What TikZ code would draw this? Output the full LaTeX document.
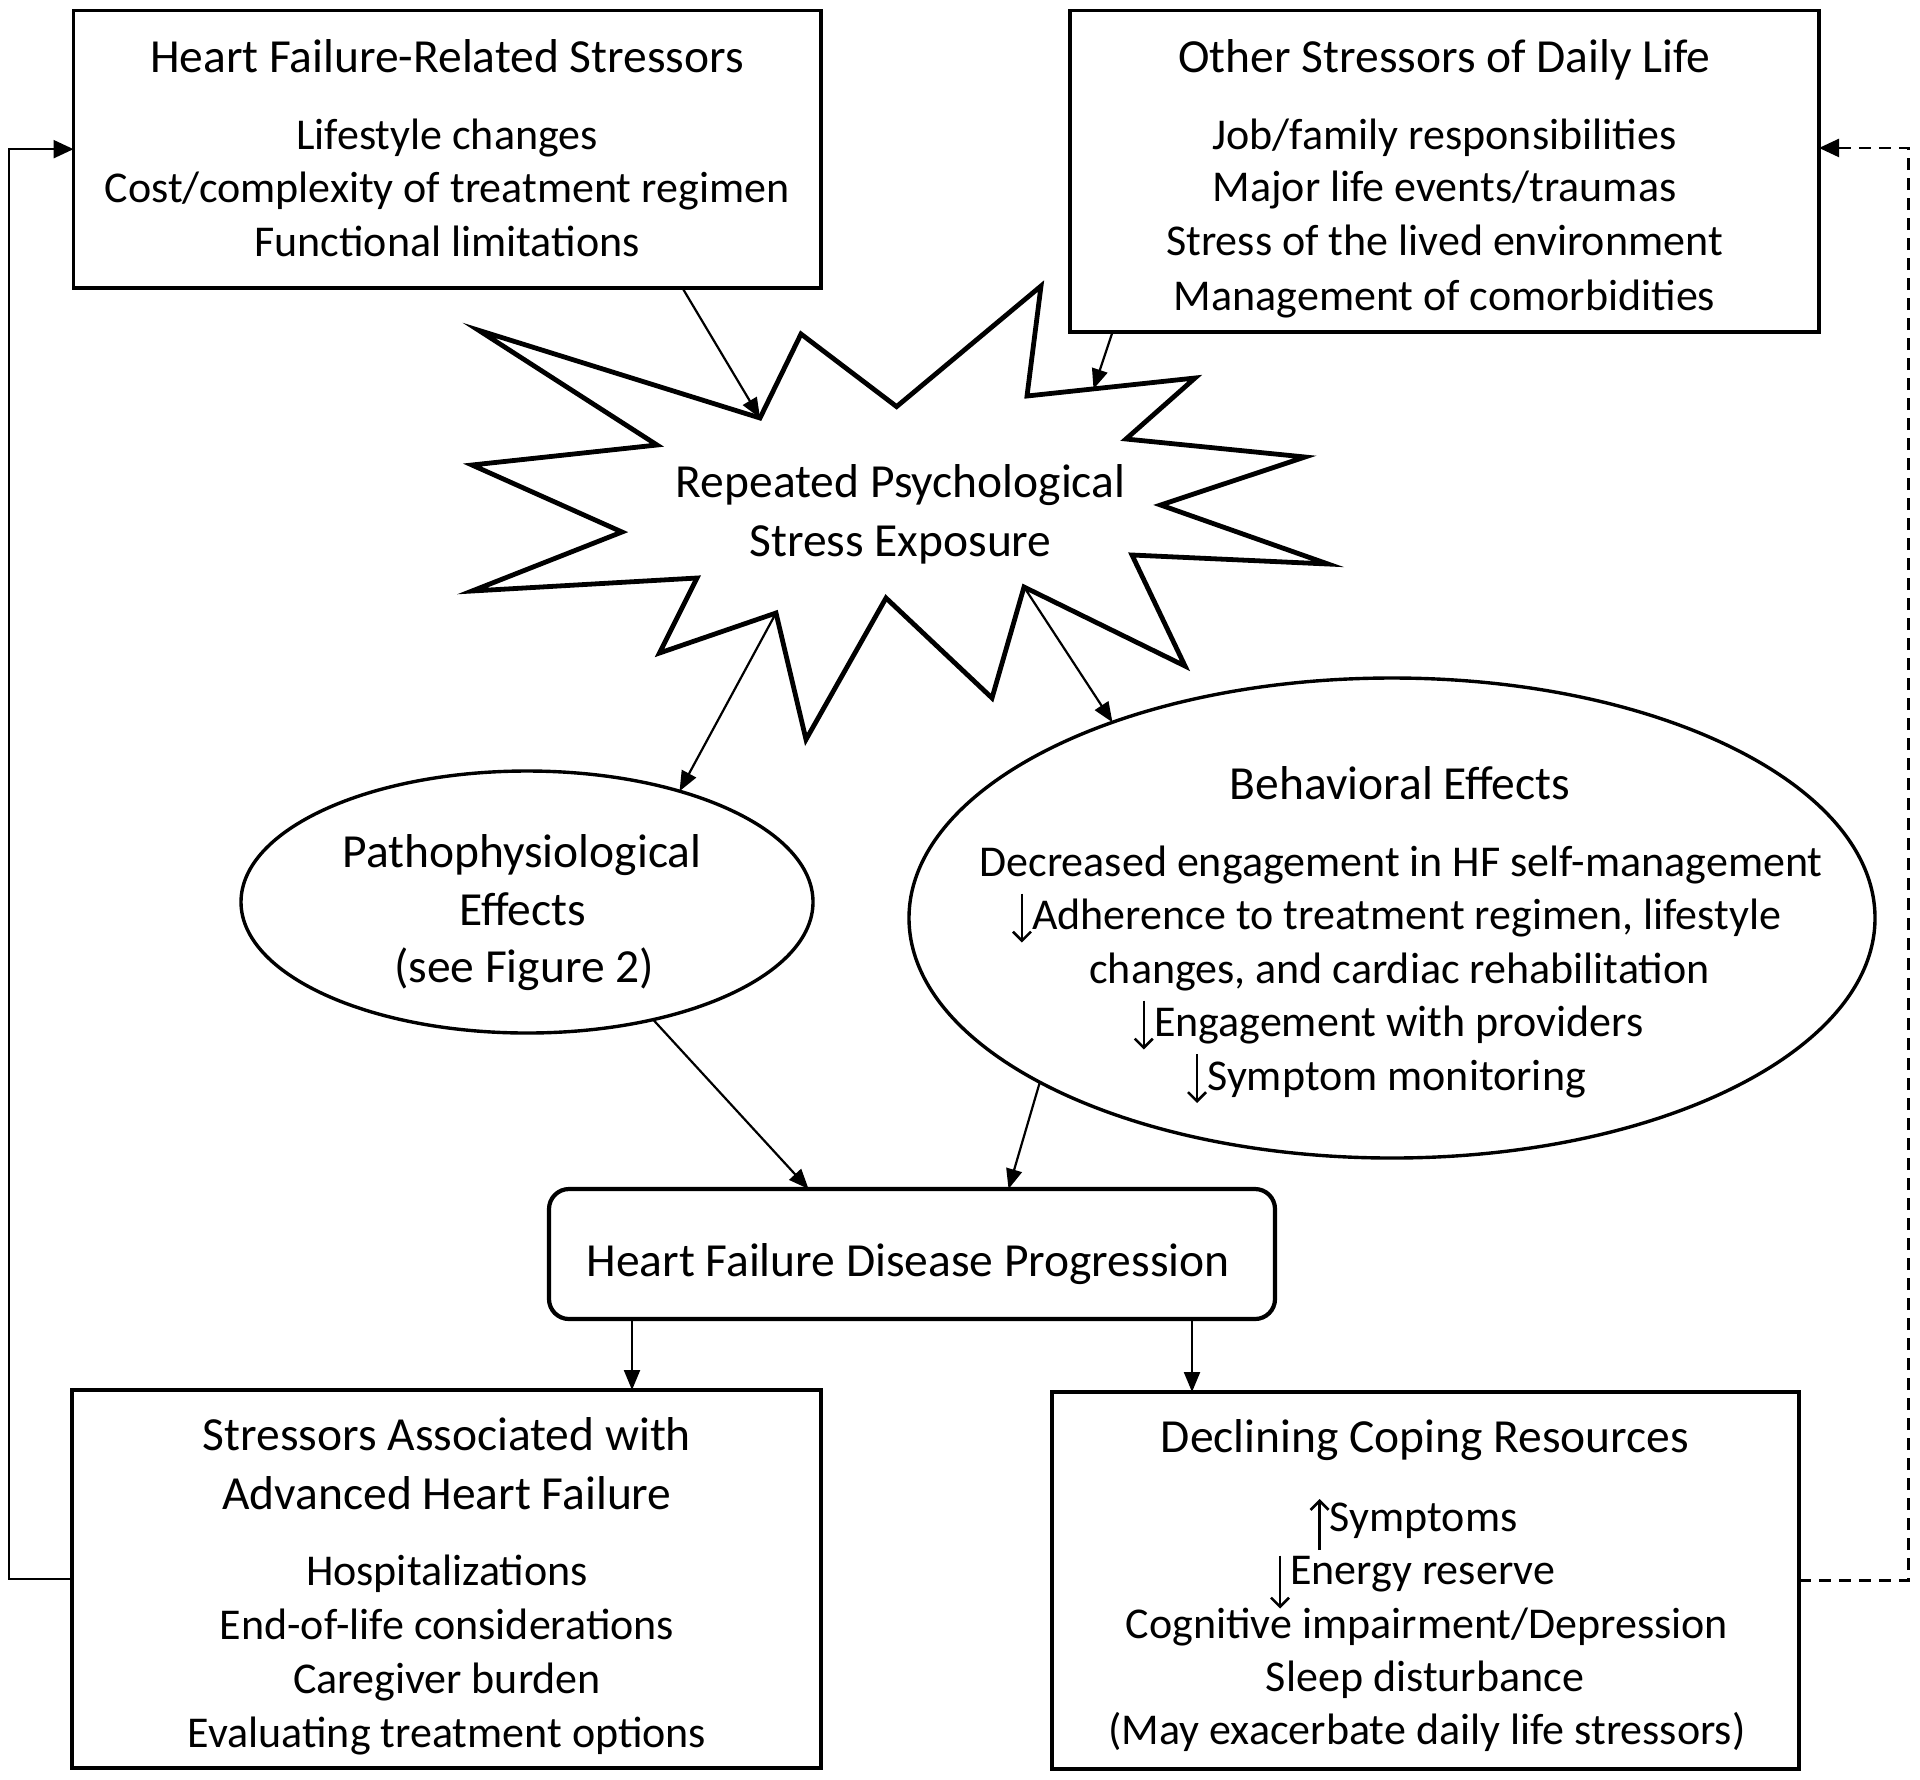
\documentclass[tikz,border=0pt]{standalone}
\usepackage{fontspec}
\setmainfont{Carlito}
\usetikzlibrary{arrows.meta,calc,shapes.geometric}
% inline vertical arrow glyph: #1 = start height, #2 = end height (relative to baseline)
\newcommand{\vtarr}[2]{\tikz[baseline=0pt,x=1pt,y=1pt]{\path (-5.5pt,0pt) (5pt,0pt);\draw[line width=1.3pt,-{Straight Barb[length=4.5pt,width=9pt,line width=1.3pt]}] (0pt,#1) -- (0pt,#2);}}
\begin{document}
\begin{tikzpicture}[x=0.5pt,y=-0.5pt,line join=miter,
  box/.style={draw, line width=1.8pt, inner sep=0pt, outer sep=0pt},
  ell/.style={draw, ellipse, line width=1.7pt, inner sep=0pt, outer sep=0pt},
  ttl/.style={anchor=base, inner sep=0pt, font=\fontsize{23.75}{29.5}\selectfont},
  bod/.style={anchor=base, inner sep=0pt, font=\fontsize{22}{27}\selectfont},
  arr/.style={line width=1.1pt, -{Triangle[length=10pt,width=8pt]}},
  fb/.style={line width=1.2pt, -{Triangle[length=10pt,width=9pt]}},
  starline/.style={line width=2.4pt}]
\fill[white] (0,0) rectangle (1920,1779);
\useasboundingbox (0,0) rectangle (1920,1779);

% ---------- top boxes ----------
\node[box, minimum width=373.75pt, minimum height=138.85pt] (b1) at (447.25,149.15) {};
\node[ttl] (b1t) at (447,72.7) {Heart Failure-Related Stressors};
\node[bod] (b1a) at (447,149) {Lifestyle changes};
\node[bod] (b1b) at (447,202) {Cost/complexity of treatment regimen};
\node[bod] (b1c) at (447,256) {Functional limitations};

\node[box, minimum width=374.5pt, minimum height=160.85pt] (b2) at (1444.5,171.15) {};
\node[ttl] (b2t) at (1444.5,72.7) {Other Stressors of Daily Life};
\node[bod] (b2a) at (1444.5,149) {Job/family responsibilities};
\node[bod] (b2b) at (1444.5,201) {Major life events/traumas};
\node[bod] (b2c) at (1444.5,255.5) {Stress of the lived environment};
\node[bod] (b2d) at (1444.5,310) {Management of comorbidities};

% ---------- star ----------
\coordinate (s1) at (478.7,330.3);
\coordinate (s2) at (760,418);
\coordinate (s3) at (801,334);
\coordinate (s4) at (896.6,406.6);
\coordinate (s5) at (1041,286);
\coordinate (s6) at (1027,396);
\coordinate (s7) at (1195,378);
\coordinate (s8) at (1126,439);
\coordinate (s9) at (1305,457);
\coordinate (s10) at (1160.6,505);
\coordinate (s11) at (1328,564);
\coordinate (s12) at (1132,555);
\coordinate (s13) at (1185,666);
\coordinate (s14) at (1024,587);
\coordinate (s15) at (992,698);
\coordinate (s16) at (886,598);
\coordinate (s17) at (806,739.5);
\coordinate (s18) at (776,613);
\coordinate (s19) at (659.5,653);
\coordinate (s20) at (697,578);
\coordinate (s21) at (472,591);
\coordinate (s22) at (622,532);
\coordinate (s23) at (472,465);
\coordinate (s24) at (657,445);
\coordinate (s67) at (1093.5,389);
\draw[starline] (s1) -- (s2) -- (s3) -- (s4) -- (s5) -- (s6) -- (s7) -- (s8)
  -- (s9) -- (s10) -- (s11) -- (s12) -- (s13) -- (s14) -- (s15) -- (s16)
  -- (s17) -- (s18) -- (s19) -- (s20) -- (s21) -- (s22) -- (s23) -- (s24) -- cycle;
\node[ttl] (st1) at (900.6,497) {Repeated Psychological};
\node[ttl] (st2) at (900.6,556) {Stress Exposure};

% ---------- ellipses ----------
\node[ell, minimum width=286pt, minimum height=131pt] (pe) at (527,902) {};
\node[ttl] (pe1) at (522,867.6) {Pathophysiological};
\node[ttl] (pe2) at (523,925) {Effects};
\node[ttl] (pe3) at (524,982) {(see Figure 2)};

\node[ell, minimum width=483pt, minimum height=240pt] (be) at (1392,918) {};
\node[ttl] (be0) at (1400,799) {Behavioral Effects};
\node[bod] (be1) at (1401,876) {Decreased engagement in HF self-management};
\node[bod] (be2) at (1396,929.5) {\vtarr{18pt}{-6.5pt}Adherence to treatment regimen, lifestyle};
\node[bod] (be3) at (1399.5,983) {changes, and cardiac rehabilitation};
\node[bod] (be4) at (1388,1036.5) {\vtarr{18pt}{-6.5pt}Engagement with providers};
\node[bod] (be5) at (1386,1090) {\vtarr{18pt}{-6.5pt}Symptom monitoring};

% ---------- progression ----------
\node[box, line width=2.1pt, rounded corners=10pt, minimum width=363pt, minimum height=65pt] (hf) at (912,1254) {};
\node[ttl] (hft) at (908,1276) {Heart Failure Disease Progression};

% ---------- bottom boxes ----------
\node[box, minimum width=374.5pt, minimum height=189pt] (b3) at (446.5,1579) {};
\node[ttl] (b3t1) at (447,1450) {Stressors Associated with};
\node[ttl] (b3t2) at (447,1509) {Advanced Heart Failure};
\node[bod] (b3a) at (447,1585) {Hospitalizations};
\node[bod] (b3b) at (447,1639) {End-of-life considerations};
\node[bod] (b3c) at (447,1693.5) {Caregiver burden};
\node[bod] (b3d) at (447,1747) {Evaluating treatment options};

\node[box, minimum width=373.5pt, minimum height=188.5pt] (b4) at (1425.5,1580.5) {};
\node[ttl] (b4t) at (1425,1452) {Declining Coping Resources};
\node[bod] (b4a) at (1413,1531) {\vtarr{-9.5pt}{16pt}Symptoms};
\node[bod] (b4b) at (1412,1584.5) {\vtarr{14.5pt}{-12pt}Energy reserve};
\node[bod] (b4c) at (1427,1638) {Cognitive impairment/Depression};
\node[bod] (b4d) at (1425,1691) {Sleep disturbance};
\node[bod] (b4e) at (1427,1744.5) {(May exacerbate daily life stressors)};

% ---------- connectors ----------
\draw[arr] ([xshift=117.6pt]b1.south) -- (s2);
\draw[arr] ([xshift=-166pt]b2.south) -- (s67);
\draw[arr] (s18) -- (pe.36.4);
\draw[arr] (s14) -- (be.145.4);
\draw[arr] (pe.-43) -- ([xshift=-51.7pt]hf.north);
\draw[arr] (be.205.4) -- ([xshift=48.25pt]hf.north);
\draw[arr] ([xshift=-140pt]hf.south) -- ([xshift=-140pt]hf.south |- b3.north);
\draw[arr] ([xshift=140pt]hf.south) -- ([xshift=140pt]hf.south |- b4.north);

\coordinate (lx) at (9,1574);
\coordinate (rx) at (1908.6,1574);
\draw[fb] (b3.west) -- (b3.west -| lx) |- (b1.west);
\draw[fb, dash pattern=on 6pt off 4pt] (b4.east) -- (b4.east -| rx) |- ([yshift=11.6pt]b2.east);
\end{tikzpicture}
\end{document}
